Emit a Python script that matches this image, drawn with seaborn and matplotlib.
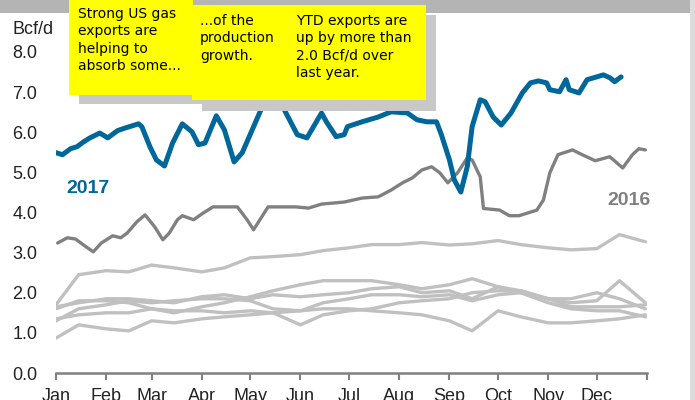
import matplotlib
matplotlib.use("Agg")
import matplotlib.pyplot as plt
import seaborn as sns
import pandas as pd
from matplotlib.patches import Rectangle

# 2017 LNG exports, day of year vs Bcf/d
days_2017 = [0, 4, 9, 13, 17, 21, 27, 32, 38, 43, 51, 53, 58, 62, 67, 72, 78, 84, 88, 92,
             99, 104, 110, 115, 120, 123, 127, 132, 137, 141, 149, 155, 164, 167, 173, 178,
             180, 189, 199, 207, 217, 223, 229, 235, 238, 243, 246, 250, 254, 257, 262, 265,
             270, 275, 281, 288, 293, 298, 303, 305, 311, 315, 317, 323, 328, 334, 338, 342,
             345, 349]
vals_2017 = [5.49, 5.44, 5.59, 5.64, 5.76, 5.86, 5.98, 5.86, 6.04, 6.11, 6.21, 6.14, 5.64,
             5.31, 5.16, 5.73, 6.21, 6.01, 5.69, 5.73, 6.41, 6.06, 5.26, 5.49, 5.95, 6.23,
             6.60, 6.80, 6.80, 6.56, 5.94, 5.86, 6.48, 6.26, 5.89, 5.94, 6.14, 6.26, 6.38,
             6.51, 6.48, 6.31, 6.26, 6.26, 5.94, 5.31, 4.81, 4.51, 5.14, 6.14, 6.81, 6.76,
             6.38, 6.18, 6.48, 6.98, 7.23, 7.28, 7.23, 7.06, 7.01, 7.31, 7.06, 6.98, 7.31,
             7.38, 7.43, 7.36, 7.26, 7.38]

# 2016
days_2016 = [1, 7, 12, 17, 23, 28, 35, 40, 44, 50, 55, 61, 66, 70, 75, 78, 85, 91, 97, 103,
             112, 118, 122, 131, 148, 156, 164, 178, 189, 199, 207, 214, 220, 226, 232, 237,
             242, 248, 254, 257, 262, 264, 274, 280, 286, 297, 301, 305, 310, 319, 325, 333,
             342, 350, 356, 360, 364]
vals_2016 = [3.24, 3.37, 3.34, 3.19, 3.02, 3.24, 3.42, 3.37, 3.49, 3.77, 3.94, 3.64, 3.32,
             3.49, 3.82, 3.92, 3.82, 3.99, 4.14, 4.14, 4.14, 3.82, 3.57, 4.14, 4.14, 4.11,
             4.21, 4.26, 4.36, 4.39, 4.56, 4.74, 4.86, 5.06, 5.14, 4.99, 4.74, 4.99, 5.36,
             5.31, 4.89, 4.10, 4.06, 3.92, 3.92, 4.06, 4.31, 4.99, 5.44, 5.56, 5.44, 5.29,
             5.39, 5.11, 5.44, 5.59, 5.56]

# earlier years, twice a month
hist_days = [0, 14, 31, 45, 59, 73, 90, 104, 120, 134, 151, 165, 181, 195, 212, 226, 243,
             257, 273, 287, 304, 318, 334, 348, 364]
hist_a = [1.70, 2.45, 2.55, 2.52, 2.69, 2.62, 2.52, 2.62, 2.87, 2.90, 2.95, 3.05, 3.12, 3.20,
          3.20, 3.25, 3.19, 3.22, 3.30, 3.20, 3.12, 3.07, 3.10, 3.45, 3.27]
hist_b = [0.87, 1.20, 1.10, 1.05, 1.30, 1.25, 1.35, 1.40, 1.45, 1.50, 1.55, 1.60, 1.60, 1.55,
          1.50, 1.45, 1.30, 1.05, 1.55, 1.40, 1.25, 1.25, 1.30, 1.35, 1.45]
hist_c = [1.35, 1.45, 1.50, 1.50, 1.60, 1.55, 1.55, 1.50, 1.55, 1.50, 1.20, 1.45, 1.55, 1.60,
          1.75, 1.80, 1.85, 2.00, 2.05, 2.05, 1.85, 1.75, 1.80, 2.30, 1.75]
hist_d = [1.60, 1.80, 1.80, 1.75, 1.60, 1.50, 1.65, 1.75, 1.90, 2.05, 2.20, 2.30, 2.30, 2.30,
          2.20, 2.10, 2.20, 2.35, 2.15, 2.00, 1.85, 1.65, 1.65, 1.65, 1.70]
hist_e = [1.65, 1.75, 1.85, 1.85, 1.80, 1.75, 1.90, 1.95, 1.85, 1.95, 1.90, 1.95, 2.00, 2.10,
          2.15, 2.00, 2.05, 1.85, 2.15, 2.05, 1.85, 1.85, 2.00, 1.85, 1.60]
hist_f = [1.30, 1.60, 1.70, 1.80, 1.75, 1.80, 1.85, 1.85, 1.80, 1.60, 1.55, 1.75, 1.85, 1.95,
          1.95, 1.90, 1.95, 1.80, 1.95, 2.00, 1.75, 1.60, 1.55, 1.55, 1.40]

months = ["Jan", "Feb", "Mar", "Apr", "May", "Jun", "Jul", "Aug", "Sep", "Oct", "Nov", "Dec"]
month_starts = [0, 31, 59, 90, 120, 151, 181, 212, 243, 273, 304, 334]
y_ticks = [0, 1, 2, 3, 4, 5, 6, 7, 8]

BLUE = "#00679A"
DARK = "#808080"
LIGHT = "#C0C0C0"
W, H = 695, 400

sns.set_style("white")
plt.rcParams["font.family"] = ["Liberation Sans", "DejaVu Sans"]

hist = pd.concat([pd.DataFrame({"day": hist_days, "value": v, "series": name})
                  for name, v in zip("abcdef", [hist_a, hist_b, hist_c, hist_d, hist_e, hist_f])])

fig = plt.figure(figsize=(W / 100, H / 100), dpi=100)
ax = fig.add_axes([56 / W, 1 - 373 / H, (647 - 56) / W, (373 - 52) / H])

sns.lineplot(data=hist, x="day", y="value", units="series", estimator=None,
             color=LIGHT, lw=2.4, ax=ax)
sns.lineplot(x=days_2016, y=vals_2016, color=DARK, lw=2.4, ax=ax)
sns.lineplot(x=days_2017, y=vals_2017, color=BLUE, lw=3.6, ax=ax)

ax.set_xlim(0, 365)
ax.set_ylim(0, 8)
ax.set_xticks(month_starts + [365])
ax.set_xticklabels(months + [""])
ax.set_yticks(y_ticks)
ax.set_yticklabels([f"{t:.1f}" for t in y_ticks])
ax.set_xlabel("")
ax.set_ylabel("")
ax.tick_params(axis="x", bottom=True, length=5, width=1.5, color=DARK, pad=6,
               labelsize=13, labelcolor="#222222")
ax.tick_params(axis="y", left=False, pad=10, labelsize=13, labelcolor="#222222")
for s in ["left", "top", "right"]:
    ax.spines[s].set_visible(False)
ax.spines["bottom"].set_color(DARK)
ax.spines["bottom"].set_linewidth(1.8)

ax.text(20, 4.6, "2017", color=BLUE, fontsize=14, fontweight="bold", ha="center", va="center")
ax.text(354, 4.31, "2016", color=DARK, fontsize=14, fontweight="bold", ha="center", va="center")
fig.text(13 / W, 1 - 30 / H, "Bcf/d", fontsize=13, color="#222222", ha="left", va="center")


def rect(x0, y0, x1, y1, color):
    fig.add_artist(Rectangle((x0 / W, 1 - y1 / H), (x1 - x0) / W, (y1 - y0) / H,
                             transform=fig.transFigure, color=color, lw=0))


# frame bits from the slide
rect(0, 0, 690, 13, "#B4B4B4")
rect(690, 0, 695, 400, "#DCDCDC")

# callout boxes with drop shadows
rect(79, 10, 203, 104, "#C8C8C8")
rect(69, 0, 193, 95, "#FFFF00")
rect(202, 15, 436, 111, "#C8C8C8")
rect(192, 5, 426, 100, "#FFFF00")

note_font = dict(fontsize=10, color="black", ha="left", va="top", linespacing=1.3,
                 family=["DejaVu Sans"])
fig.text(78 / W, 1 - 7 / H, "Strong US gas\nexports are\nhelping to\nabsorb some...", **note_font)
fig.text(200 / W, 1 - 14 / H, "...of the\nproduction\ngrowth.", **note_font)
fig.text(296 / W, 1 - 14 / H, "YTD exports are\nup by more than\n2.0 Bcf/d over\nlast year.", **note_font)

fig.savefig("out.png", dpi=100)
